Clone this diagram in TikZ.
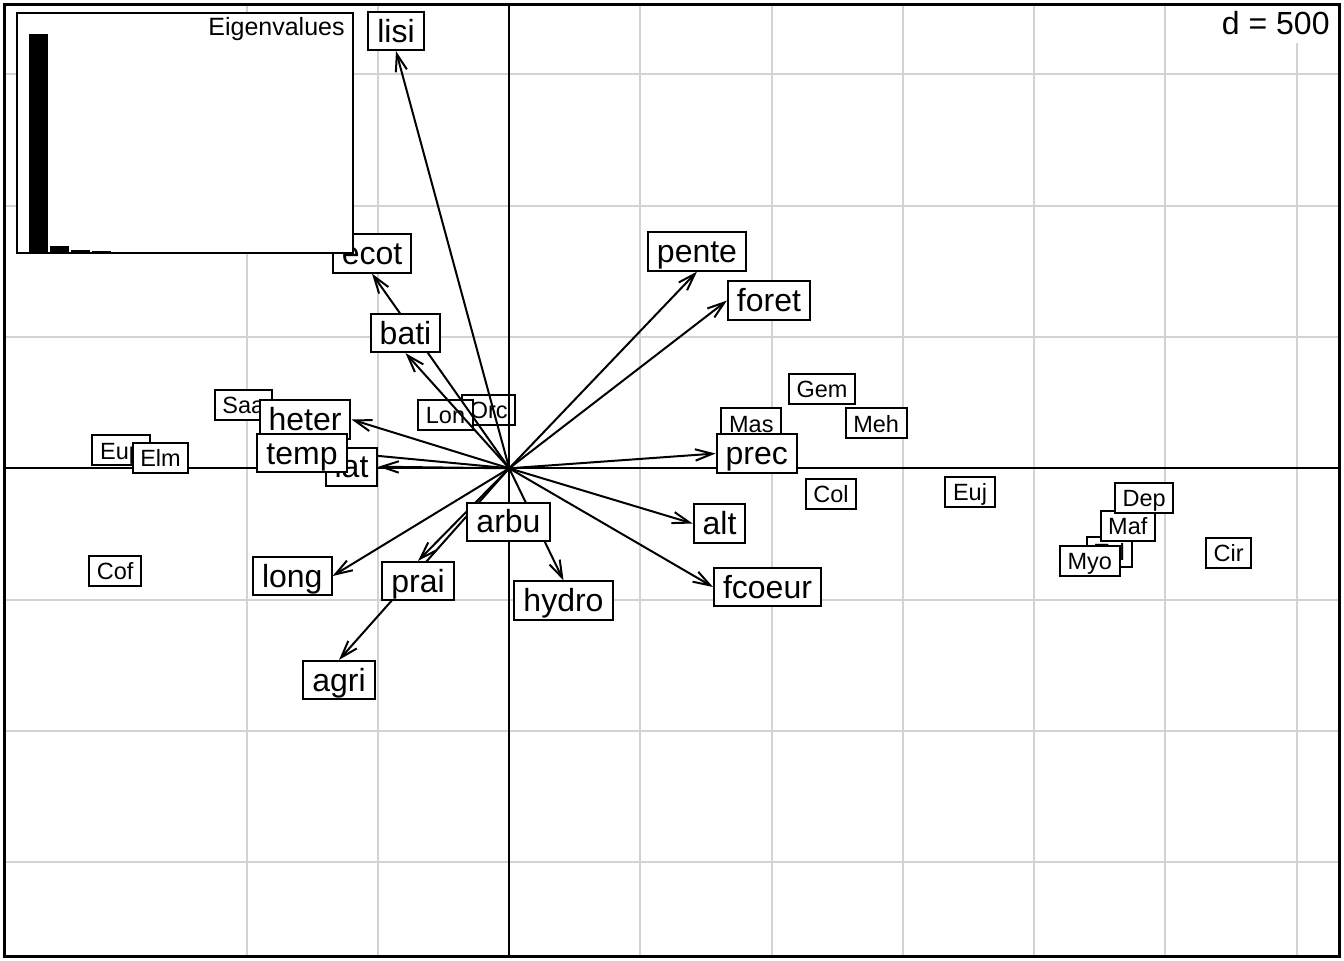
\documentclass[tikz,border=0pt]{standalone}
\usepackage{fontspec}
\setmainfont{Liberation Sans}
\usetikzlibrary{arrows.meta}
\pgfdeclarelayer{bg}
\pgfdeclarelayer{fg}
\pgfsetlayers{bg,main,fg}
\definecolor{gridgray}{RGB}{211,211,211}
\tikzset{
  big/.style={draw=black, fill=white, line width=1pt, font=\fontsize{16}{19}\selectfont,
    inner xsep=4.5pt, inner ysep=0pt, text height=15.1pt, text depth=4pt},
  sml/.style={draw=black, fill=white, line width=1pt, font=\fontsize{11.75}{14}\selectfont,
    inner xsep=3.85pt, inner ysep=0pt, text height=11.85pt, text depth=3.15pt},
  vec/.style={line width=1pt, -{Straight Barb[length=8.6pt,width=5.7pt]}},
  gridline/.style={gridgray, line width=1pt},
  axisline/.style={black, line width=1pt},
  eigbar/.style={fill=black, draw=black, line width=0.5pt},
}
\begin{document}
\begin{tikzpicture}[x=0.5pt,y=-0.5pt]
\useasboundingbox (0,0) rectangle (1344,960);
\begin{pgfonlayer}{bg}
  \fill[white] (0,0) rectangle (1344,960);
  % grid
  \foreach \gx in {247.0,378.2,640.4,771.6,902.8,1034.0,1165.4,1296.6}
    \draw[gridline] (\gx,4) -- (\gx,956);
  \foreach \gy in {74.4,205.7,337.0,599.6,730.9,862.2}
    \draw[gridline] (4,\gy) -- (1339,\gy);
  \draw[axisline] (4,468.3) -- (1339,468.3);
  \coordinate (o) at (509.2,468.3);
  % species labels
  \node[sml] (Saa) at (243.3,404.5) {Saa};
  \node[sml] (Eup) at (121,450.3) {Eup};
  \node[sml] (Elm) at (160.5,457.8) {Elm};
  \node[sml] (Cof) at (115.2,570.5) {Cof};
  \node[sml] (Orc) at (488.8,410) {Orc};
  \node[sml] (Lon) at (445.5,415) {Lon};
  \node[sml] (Mas) at (751.3,423.3) {Mas};
  \node[sml] (Gem) at (822,389) {Gem};
  \node[sml] (Meh) at (876.2,423.3) {Meh};
  \node[sml] (Col) at (831,494) {Col};
  \node[sml] (Euj) at (970,492) {Euj};
  \node[sml] (Tel) at (1109.7,552) {Tel};
  \node[sml] (Maf) at (1127.8,525.7) {Maf};
  \node[sml] (Myo) at (1089.7,560.7) {Myo};
  \node[sml] (Dep) at (1144.2,498) {Dep};
  \node[sml] (Cir) at (1228.7,552.5) {Cir};
  \draw[axisline] (509.2,4) -- (509.2,956);
\end{pgfonlayer}
\begin{pgfonlayer}{fg}
  \node[big] (lisi) at (396,31) {lisi};
  \node[big] (ecot) at (372,253.5) {ecot};
  \node[big] (bati) at (405.5,333) {bati};
  \node[big] (heter) at (305,419.5) {heter};
  \node[big] (lat) at (351.5,466.7) {lat};
  \node[big] (temp) at (302,453) {temp};
  \node[big] (long) at (292.3,576) {long};
  \node[big] (prai) at (418,581) {prai};
  \node[big] (agri) at (339,680) {agri};
  \node[big] (arbu) at (508.5,521.7) {arbu};
  \node[big] (hydro) at (563.5,600.5) {hydro};
  \node[big] (pente) at (697,251.5) {pente};
  \node[big] (foret) at (769,300.5) {foret};
  \node[big] (prec) at (756.7,453.5) {prec};
  \node[big] (alt) at (719.5,523.5) {alt};
  \node[big] (fcoeur) at (767.5,587) {fcoeur};
  % eigenvalue inset
  \node[draw=black, fill=white, line width=1pt, minimum width=168pt, minimum height=120pt, inner sep=0pt] (eig) at (185,133) {};
  \foreach \i/\t in {0/34.3,1/246.3,2/250,3/251.3,4/252.2,5/252.3,6/252.4,7/252.4,8/252.5,9/252.5,10/252.5,11/252.5,12/252.5,13/252.5,14/252.5}
    \filldraw[eigbar] ({29+21*\i},\t) rectangle ({29+21*\i+18.7},253);
  \node[anchor=base east, inner sep=0pt, font=\fontsize{12.5}{15}\selectfont] (eigtitle) at (345,35) {Eigenvalues};
  % scale label
  \fill[white] (1215,4) rectangle (1339,43);
  \node[anchor=base east, inner sep=0pt, font=\fontsize{16}{19}\selectfont] (dlab) at (1330,34.3) {d = 500};
  \draw[line width=1.5pt] (4,4) rectangle (1339,956);
\end{pgfonlayer}
% arrows
\draw[vec] (o) -- (lisi.south);
\draw[vec] (o) -- (ecot.south);
\draw[vec] (o) -- (bati.south);
\draw[vec] (o) -- (heter.east);
\draw[vec] (o) -- (temp.east);
\draw[vec] (o) -- (lat.east);
\draw[vec] (o) -- (long.east);
\draw[vec] (o) -- (prai.north);
\draw[vec] (o) -- (agri.north);
\draw[vec] (o) -- (hydro.north);
\draw[vec] (o) -- (pente.south);
\draw[vec] (o) -- (foret.west);
\draw[vec] (o) -- (prec.west);
\draw[vec] (o) -- (alt.west);
\draw[vec] (o) -- (fcoeur.west);
\end{tikzpicture}
\end{document}
